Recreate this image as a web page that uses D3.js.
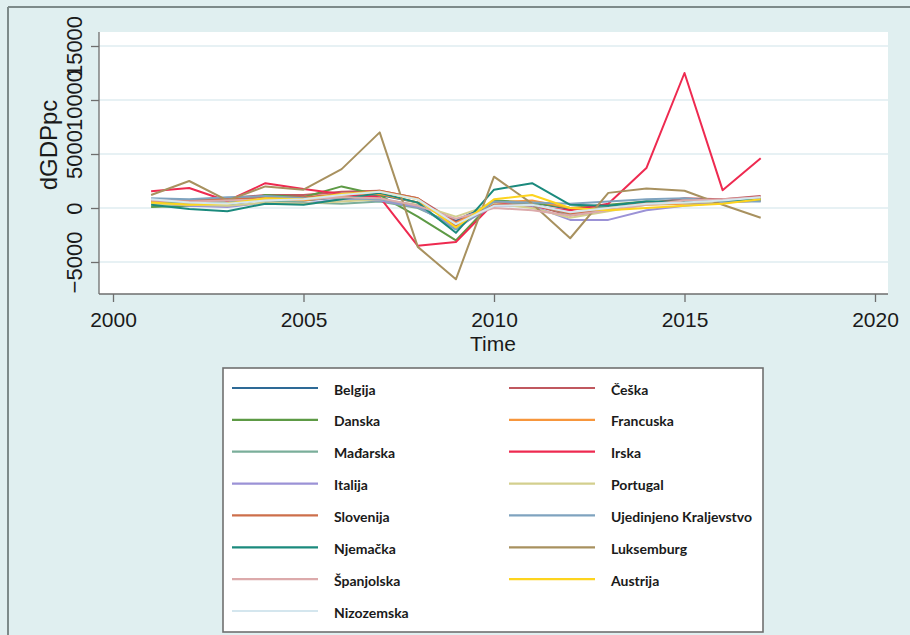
<!DOCTYPE html>
<html>
<head>
<meta charset="utf-8">
<script src="https://cdn.jsdelivr.net/npm/d3@7"></script>
<style>
body { margin: 0; background: #e0eff0; }
svg { display: block; }
</style>
</head>
<body>
<section></section>
<script>
// data: dGDPpc per country, years 2001 - 2017
var years = [2001, 2002, 2003, 2004, 2005, 2006, 2007, 2008, 2009, 2010, 2011, 2012, 2013, 2014, 2015, 2016, 2017];

var belgija     = [600, 400, 300, 800, 700, 1000, 1200, 500, -1200, 600, 500, -100, 100, 500, 500, 600, 800];
var ceska       = [700, 700, 900, 1200, 1200, 1500, 1600, 900, -1300, 300, 300, -700, -200, 400, 900, 800, 1100];
var danska      = [100, 200, 300, 1200, 1000, 2000, 1200, -800, -3000, 700, 500, 0, 300, 600, 500, 600, 700];
var francuska   = [600, 400, 400, 800, 700, 1100, 1300, 500, -1400, 500, 700, 0, 100, 300, 400, 500, 700];
var madarska    = [500, 500, 600, 700, 500, 400, 600, 0, -1600, 300, 400, -600, 200, 400, 500, 500, 900];
var irska       = [1550, 1850, 650, 2300, 1750, 1300, 1000, -3500, -3150, 450, 100, -200, 400, 3700, 12500, 1650, 4600];
var italija     = [500, 200, 100, 500, 400, 800, 700, 100, -1800, 200, 200, -1100, -1100, -200, 200, 500, 700];
var portugal    = [400, 300, 200, 500, 400, 600, 800, 300, -800, 400, 0, -900, -300, 300, 500, 600, 800];
var slovenija   = [600, 700, 800, 1000, 1000, 1300, 1600, 900, -1700, 300, 300, -500, -100, 500, 700, 700, 1000];
var ujedinjeno  = [900, 800, 1000, 1100, 900, 900, 800, 200, -2000, 600, 500, 400, 600, 800, 900, 600, 600];
var njemacka    = [300, -100, -300, 400, 300, 800, 1400, 500, -2300, 1700, 2300, 300, 200, 600, 600, 700, 800];
var luksemburg  = [1200, 2500, 700, 2000, 1700, 3600, 7000, -3600, -6600, 2900, 400, -2800, 1400, 1800, 1600, 300, -900];
var spanjolska  = [700, 600, 700, 800, 800, 1000, 900, 200, -1000, 0, -200, -700, -200, 300, 700, 800, 1000];
var austrija    = [500, 300, 400, 900, 800, 1300, 1500, 800, -1800, 800, 1200, 0, -200, 0, 200, 400, 800];
var nizozemska  = [800, 500, 400, 700, 800, 1200, 1500, 800, -1500, 200, 300, -400, 0, 400, 500, 700, 1000];

var xTicks = [2000, 2005, 2010, 2015, 2020];
var yTicks = [-5000, 0, 5000, 10000, 15000];

// legend order (two columns, row by row)
var series = [
	{name: "Belgija", values: belgija, color: "#2e6a96"},
	{name: "Češka", values: ceska, color: "#c0585f"},
	{name: "Danska", values: danska, color: "#5d9a45"},
	{name: "Francuska", values: francuska, color: "#f7963c"},
	{name: "Mađarska", values: madarska, color: "#7aae9a"},
	{name: "Irska", values: irska, color: "#ee2a50"},
	{name: "Italija", values: italija, color: "#9b92d6"},
	{name: "Portugal", values: portugal, color: "#d3cf8e"},
	{name: "Slovenija", values: slovenija, color: "#cd6f4b"},
	{name: "Ujedinjeno Kraljevstvo", values: ujedinjeno, color: "#7fa3bf"},
	{name: "Njemačka", values: njemacka, color: "#1b8a7d"},
	{name: "Luksemburg", values: luksemburg, color: "#a8915f"},
	{name: "Španjolska", values: spanjolska, color: "#dcaaab"},
	{name: "Austrija", values: austrija, color: "#fdd41e"},
	{name: "Nizozemska", values: nizozemska, color: "#d4e6ee"}
];

var width = 910,
	height = 635;

var svg = d3.select('section')
	.append('svg')
	.attr('width', width)
	.attr('height', height);

// outer graph region
svg.append('rect').attr('x', 0).attr('y', 0).attr('width', width).attr('height', height).attr('fill', '#e0eff0');
svg.append('line').attr('x1', 8).attr('x2', width).attr('y1', 7).attr('y2', 7)
	.attr('stroke', '#7d8a8a').attr('stroke-width', 2);
svg.append('line').attr('x1', 8).attr('x2', 8).attr('y1', 7).attr('y2', height)
	.attr('stroke', '#7d8a8a').attr('stroke-width', 2);

// plot region
var plotL = 99, plotR = 888, plotT = 32, plotB = 294;
svg.append('rect').attr('x', plotL).attr('y', plotT).attr('width', plotR - plotL).attr('height', plotB - plotT)
	.attr('fill', '#fff');

var x = d3.scaleLinear().domain([2000, 2020]).range([113, 875]);
var y = d3.scaleLinear().domain([-5000, 15000]).range([262, 46]);

// grid
svg.append('g').selectAll('line').data(yTicks).enter().append('line')
	.attr('x1', plotL).attr('x2', plotR)
	.attr('y1', function(d) { return y(d); })
	.attr('y2', function(d) { return y(d); })
	.attr('stroke', '#dfedf0').attr('stroke-width', 1.6);

// lines
var line = d3.line()
	.x(function(d, i) { return x(years[i]); })
	.y(function(d) { return y(d); });

svg.append('g').selectAll('path').data(series).enter().append('path')
	.attr('d', function(d) { return line(d.values); })
	.attr('fill', 'none')
	.attr('stroke', function(d) { return d.color; })
	.attr('stroke-width', 2)
	.attr('stroke-linejoin', 'round');

// axes
var yAxis = svg.append('g').attr('transform', 'translate(' + plotL + ',0)')
	.call(d3.axisLeft(y).tickValues(yTicks).tickSize(8).tickPadding(9).tickFormat(d3.format('d')));
yAxis.select('.domain').attr('d', 'M0,' + plotT + 'V' + plotB).attr('stroke', '#6e6e6e').attr('stroke-width', 1.3);
yAxis.selectAll('.tick line').attr('stroke', '#6e6e6e').attr('stroke-width', 1.3);
yAxis.selectAll('.tick text')
	.attr('x', null).attr('dy', null)
	.attr('transform', 'translate(-17,0) rotate(-90)')
	.attr('text-anchor', 'middle')
	.attr('fill', '#1a1a1a')
	.style('font-family', 'Liberation Sans, Arial, sans-serif')
	.style('font-size', '22px');

var xAxis = svg.append('g').attr('transform', 'translate(0,' + plotB + ')')
	.call(d3.axisBottom(x).tickValues(xTicks).tickSize(8).tickPadding(8).tickFormat(d3.format('d')));
xAxis.select('.domain').attr('d', 'M' + plotL + ',0H' + plotR).attr('stroke', '#6e6e6e').attr('stroke-width', 1.3);
xAxis.selectAll('.tick line').attr('stroke', '#6e6e6e').attr('stroke-width', 1.3);
xAxis.selectAll('.tick text')
	.attr('y', 33).attr('dy', null)
	.attr('fill', '#1a1a1a')
	.style('font-family', 'Liberation Sans, Arial, sans-serif')
	.style('font-size', '21px');

// axis titles
svg.append('text').attr('x', 493).attr('y', 351).attr('text-anchor', 'middle')
	.style('font-family', 'Liberation Sans, Arial, sans-serif').style('font-size', '21px').attr('fill', '#1a1a1a')
	.text('Time');
svg.append('text').attr('transform', 'translate(57,145) rotate(-90)').attr('text-anchor', 'middle')
	.style('font-family', 'Liberation Sans, Arial, sans-serif').style('font-size', '24px').attr('fill', '#1a1a1a')
	.text('dGDPpc');

// legend
var legend = svg.append('g');
legend.append('rect').attr('x', 223).attr('y', 368).attr('width', 540).attr('height', 264)
	.attr('fill', '#fff').attr('stroke', '#707070').attr('stroke-width', 1.6);

var rowY = d3.scaleLinear().domain([0, 7]).range([388, 611]);
var items = legend.selectAll('.item').data(series).enter().append('g')
	.attr('class', 'item')
	.attr('transform', function(d, i) {
		var col = i % 2, row = Math.floor(i / 2);
		return 'translate(' + (col ? 509 : 232) + ',' + rowY(row) + ')';
	});
items.append('line').attr('x1', 0).attr('x2', 86).attr('y1', 0).attr('y2', 0)
	.attr('stroke', function(d) { return d.color; }).attr('stroke-width', 2.2);
items.append('text').attr('x', 102).attr('y', 1).attr('dominant-baseline', 'central')
	.style('font-family', 'Lato, sans-serif').style('font-weight', 'bold').style('font-size', '14px')
	.attr('fill', '#1a1a1a')
	.text(function(d) { return d.name; });
</script>
</body>
</html>
